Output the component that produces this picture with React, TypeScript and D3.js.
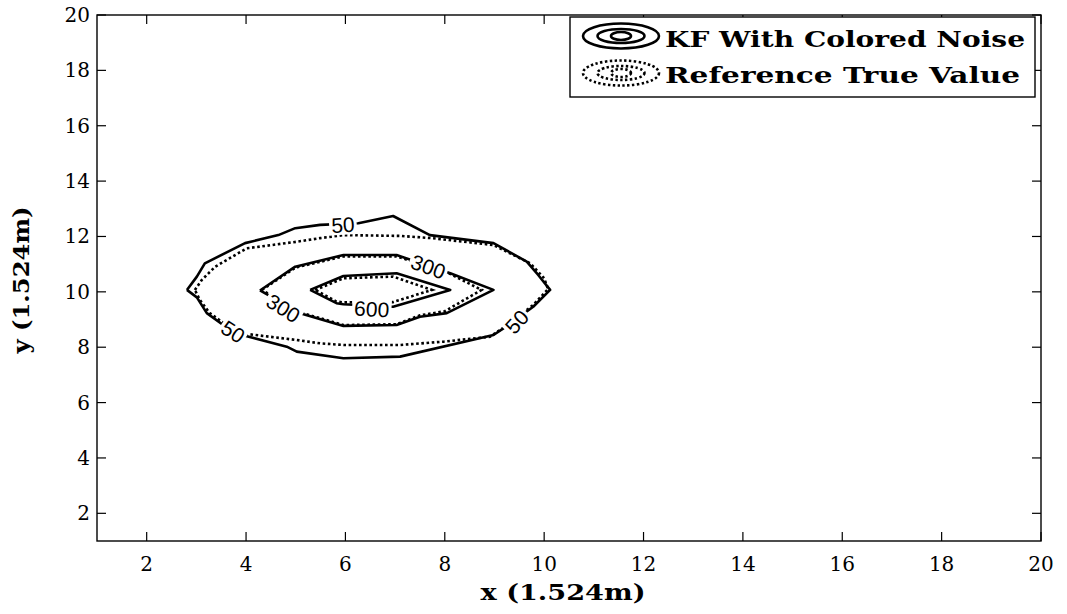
import React from "react";
import * as d3 from "d3";

type Pt = [number, number];

const xTicks = [2, 4, 6, 8, 10, 12, 14, 16, 18, 20];
const yTicks = [2, 4, 6, 8, 10, 12, 14, 16, 18, 20];
const xDomain: Pt = [1, 20];
const yDomain: Pt = [1, 20];

// KF With Colored Noise (solid contours)
const kf50: Pt[] = [
  [2.81, 10.07], [3.01, 10.55], [3.17, 11.03], [3.98, 11.76], [4.65, 12.05], [4.99, 12.3],
  [5.49, 12.42], [6.26, 12.48], [6.96, 12.74], [7.7, 12.05], [8.98, 11.76], [9.65, 11.09],
  [9.88, 10.61], [10.12, 10.07], [9.78, 9.46], [9.18, 8.68], [8.98, 8.44], [7.1, 7.66],
  [5.96, 7.6], [5.02, 7.84], [4.82, 8.02], [3.98, 8.41], [3.54, 8.8], [3.21, 9.23],
  [3.01, 9.8], [2.81, 10.07],
];
const kf300: Pt[] = [
  [4.28, 10.05], [4.99, 10.91], [5.96, 11.33], [7.03, 11.33], [8.11, 10.67], [8.98, 10.07],
  [8.04, 9.23], [7.5, 9.1], [7.03, 8.8], [5.96, 8.77], [5.09, 9.23], [4.28, 10.05],
];
const kf600: Pt[] = [
  [5.29, 10.07], [5.96, 10.57], [7.03, 10.67], [8.11, 10.07], [6.96, 9.46], [5.96, 9.55],
  [5.82, 9.59], [5.29, 10.07],
];

// Reference True Value (dotted contours)
const ref50: Pt[] = [
  [2.97, 10.07], [3.11, 10.43], [3.38, 10.91], [4.01, 11.57], [5.02, 11.81], [5.49, 11.94],
  [5.96, 12.05], [7.1, 12.02], [7.74, 11.94], [8.98, 11.69], [9.72, 11.03], [10.0, 10.49],
  [10.08, 10.1], [9.78, 9.53], [9.3, 8.85], [8.91, 8.38], [7.97, 8.2], [7.1, 8.08],
  [5.96, 8.08], [5.49, 8.14], [5.02, 8.26], [4.01, 8.48], [3.51, 8.92], [3.27, 9.23],
  [3.07, 9.71], [2.97, 10.07],
];
const ref300: Pt[] = [
  [4.32, 10.07], [5.0, 10.88], [5.96, 11.28], [7.03, 11.28], [8.05, 10.7], [8.74, 10.07],
  [8.0, 9.3], [7.5, 9.15], [7.03, 8.83], [5.96, 8.8], [5.09, 9.26], [4.32, 10.07],
];
const ref600: Pt[] = [
  [5.39, 10.07], [5.96, 10.49], [6.96, 10.55], [7.74, 10.07], [6.96, 9.63], [5.96, 9.62],
  [5.82, 9.65], [5.39, 10.07],
];

// contour labels: level, x, y, angle
const labelLevels = ["50", "300", "300", "600", "50", "50"];
const labelX = [5.95, 7.67, 4.75, 6.53, 3.74, 9.45];
const labelY = [12.42, 10.91, 9.41, 9.38, 8.56, 8.92];
const labelAngle = [-3, 20, 32, 3, 33, -48];

const legendNames = ["KF With Colored Noise", "Reference True Value"];

const W = 1067;
const H = 614;
const L = 97, R = 1041, T = 15, B = 541;
const SERIF = "'DejaVu Serif', Georgia, serif";

export default function App() {
  const x = d3.scaleLinear().domain(xDomain).range([L, R]);
  const y = d3.scaleLinear().domain(yDomain).range([B, T]);
  const line = d3.line<Pt>().x((d) => x(d[0])).y((d) => y(d[1]));

  const solid = [kf50, kf300, kf600];
  const dotted = [ref50, ref300, ref600];
  const tickLen = 9;

  return (
    <svg width={W} height={H} style={{ position: "absolute", left: 0, top: 0, background: "#fff" }}>
      <rect x={0} y={0} width={W} height={H} fill="#fff" />
      {dotted.map((d, i) => (
        <path key={"d" + i} d={line(d) || ""} fill="none" stroke="#000" strokeWidth={2.6} strokeDasharray="2.6 2.6" />
      ))}
      {solid.map((d, i) => (
        <path key={"s" + i} d={line(d) || ""} fill="none" stroke="#000" strokeWidth={2.6} strokeLinejoin="round" />
      ))}
      {labelLevels.map((t, i) => {
        const cx = x(labelX[i]);
        const cy = y(labelY[i]);
        const w = t.length * 11.8 + 4;
        return (
          <g key={"l" + i} transform={`translate(${cx},${cy}) rotate(${labelAngle[i]})`}>
            <rect x={-w / 2} y={-10} width={w} height={20} fill="#fff" />
            <text x={0} y={7.5} textAnchor="middle" fontFamily="'Liberation Sans', Arial, sans-serif" fontSize={21} fill="#000">
              {t}
            </text>
          </g>
        );
      })}
      <rect x={L} y={T} width={R - L} height={B - T} fill="none" stroke="#000" strokeWidth={1.4} />
      {xTicks.map((t) => (
        <g key={"xt" + t}>
          <line x1={x(t)} x2={x(t)} y1={B} y2={B - tickLen} stroke="#000" strokeWidth={1.2} />
          <line x1={x(t)} x2={x(t)} y1={T} y2={T + tickLen} stroke="#000" strokeWidth={1.2} />
          <text x={x(t)} y={571} textAnchor="middle" fontFamily={SERIF} fontSize={20} fill="#000">
            {t}
          </text>
        </g>
      ))}
      {yTicks.map((t) => (
        <g key={"yt" + t}>
          <line x1={L} x2={L + tickLen} y1={y(t)} y2={y(t)} stroke="#000" strokeWidth={1.2} />
          <line x1={R} x2={R - tickLen} y1={y(t)} y2={y(t)} stroke="#000" strokeWidth={1.2} />
          <text x={90} y={y(t) + 7} textAnchor="end" fontFamily={SERIF} fontSize={20} fill="#000">
            {t}
          </text>
        </g>
      ))}
      <text x={(L + R) / 2 - 6} y={600} textAnchor="middle" fontFamily={SERIF} fontWeight="bold" fontSize={22}
        textLength={165} lengthAdjust="spacingAndGlyphs" fill="#000">
        x (1.524m)
      </text>
      <text transform={`translate(29,${(T + B) / 2 + 2}) rotate(-90)`} textAnchor="middle" fontFamily={SERIF}
        fontWeight="bold" fontSize={22} textLength={147} lengthAdjust="spacingAndGlyphs" fill="#000">
        y (1.524m)
      </text>
      <rect x={570} y={17} width={465} height={80} fill="#fff" stroke="#000" strokeWidth={1.4} />
      {[0, 1].map((i) => {
        const cy = i === 0 ? 36 : 73;
        const dash = i === 0 ? undefined : "2.4 2.4";
        return (
          <g key={"lg" + i}>
            {[[38, 12.5], [23.5, 7], [10, 4]].map(([rx, ry], k) => (
              <ellipse key={k} cx={621} cy={cy} rx={rx} ry={ry} fill="none" stroke="#000" strokeWidth={2.6} strokeDasharray={dash} />
            ))}
            <text x={665} y={i === 0 ? 47 : 83} fontFamily={SERIF} fontWeight="bold" fontSize={22}
              textLength={i === 0 ? 360 : 355} lengthAdjust="spacingAndGlyphs" fill="#000">
              {legendNames[i]}
            </text>
          </g>
        );
      })}
    </svg>
  );
}
